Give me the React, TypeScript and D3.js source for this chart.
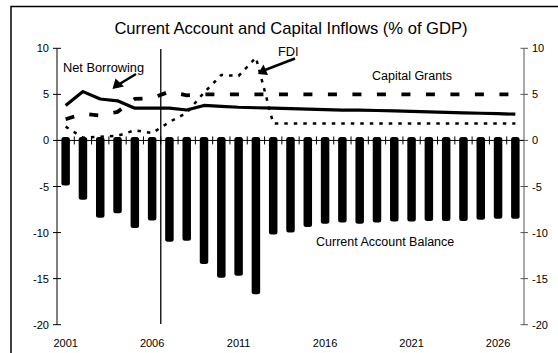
import React from "react";
import * as d3 from "d3";

const years = d3.range(2001, 2028).map(String);
const currentAccount = [-4.9, -6.45, -8.4, -7.9, -9.5, -8.7, -11.0, -10.9, -13.4, -14.9, -14.7, -16.7, -10.2, -10.0, -9.4, -9.05, -8.9, -9.05, -8.9, -8.8, -8.8, -8.75, -8.75, -8.75, -8.6, -8.5, -8.5];
const netBorrowing = [3.8, 5.3, 4.5, 4.3, 3.5, 3.5, 3.5, 3.3, 3.8, 3.7, 3.6, 3.55, 3.5, 3.45, 3.4, 3.35, 3.3, 3.3, 3.25, 3.2, 3.15, 3.1, 3.05, 3.0, 2.95, 2.9, 2.85];
const capitalGrants = [2.3, 2.9, 2.7, 3.1, 4.5, 4.6, 5.3, 4.9, 5, 5, 5, 5, 5, 5, 5, 5, 5, 5, 5, 5, 5, 5, 5, 5, 5, 5, 5];
const fdi = [1.5, 0.3, 0.4, 0.5, 1.1, 0.8, 2.0, 3.0, 5.2, 7.1, 7.0, 9.0, 1.85, 1.85, 1.85, 1.85, 1.85, 1.85, 1.85, 1.85, 1.85, 1.85, 1.85, 1.85, 1.85, 1.85, 1.85];
const yTicks = [-20, -15, -10, -5, 0, 5, 10];
const xLabels = ["2001", "2006", "2011", "2016", "2021", "2026"];

const FONT = "'Liberation Sans', Arial, sans-serif";

export default function App() {
  const x = d3.scaleBand<string>().domain(years).range([57, 524]).padding(0);
  const y = d3.scaleLinear().domain([-20, 10]).range([324.7, 48.3]);
  const cx = (yr: string) => (x(yr) as number) + x.bandwidth() / 2;
  const line = d3
    .line<number>()
    .x((_, i) => cx(years[i]))
    .y((v) => y(v));
  const y0 = y(0);
  const barW = 8.5;
  const sepX = (cx("2006") + cx("2007")) / 2;

  return (
    <svg width={558} height={353} style={{ position: "absolute", left: 0, top: 0, display: "block" }} fontFamily={FONT}>
      <rect x={0} y={0} width={558} height={353} fill="#fff" />
      <rect x={11} y={6.5} width={560} height={360} fill="none" stroke="#000" strokeWidth={1.5} />
      <text x={291} y={33.5} textAnchor="middle" fontSize={16.6}>
        Current Account and Capital Inflows (% of GDP)
      </text>

      {/* bars */}
      {currentAccount.map((v, i) => (
        <rect
          key={years[i]}
          x={cx(years[i]) - barW / 2}
          y={y0 - 3.5}
          width={barW}
          height={y(v) - y0 + 3.5}
          rx={2.5}
          fill="#000"
        />
      ))}

      {/* left axis */}
      <line x1={57} x2={57} y1={y(10)} y2={y(-20)} stroke="#000" strokeWidth={1} />
      {yTicks.map((t) => (
        <g key={"l" + t}>
          <line x1={53} x2={61} y1={y(t)} y2={y(t)} stroke="#000" />
          <text x={49} y={y(t) + 4} textAnchor="end" fontSize={11}>
            {t}
          </text>
        </g>
      ))}
      {/* right axis */}
      <line x1={524} x2={524} y1={y(10)} y2={y(-20)} stroke="#555" strokeWidth={1} />
      {yTicks.map((t) => (
        <g key={"r" + t}>
          <line x1={520.5} x2={528} y1={y(t)} y2={y(t)} stroke="#555" />
          <text x={532} y={y(t) + 4} textAnchor="start" fontSize={11}>
            {t}
          </text>
        </g>
      ))}
      {/* zero line + category ticks */}
      <line x1={57} x2={524} y1={y0} y2={y0} stroke="#000" strokeWidth={1} />
      {years.slice(1).map((yr) => (
        <line key={"t" + yr} x1={x(yr) as number} x2={x(yr) as number} y1={y0 - 4} y2={y0 + 4} stroke="#000" />
      ))}
      {xLabels.map((l) => (
        <text key={"x" + l} x={cx(l)} y={347} textAnchor="middle" fontSize={11}>
          {l}
        </text>
      ))}

      {/* separator */}
      <line x1={sepX} x2={sepX} y1={49} y2={324} stroke="#000" strokeWidth={1.3} />

      {/* lines */}
      <path d={line(fdi) || ""} fill="none" stroke="#000" strokeWidth={2.5} strokeDasharray="3.5 6" />
      <path d={line(capitalGrants) || ""} fill="none" stroke="#000" strokeWidth={3.8} strokeDasharray="9 15.5" />
      <path d={line(netBorrowing) || ""} fill="none" stroke="#000" strokeWidth={3.2} strokeLinejoin="round" />

      {/* annotations */}
      <text x={63} y={72} fontSize={12.8}>Net Borrowing</text>
      <line x1={136} y1={74} x2={119.5} y2={84} stroke="#000" strokeWidth={2.5} />
      <polygon points="112.5,89 115.5,78.5 124,86.5" fill="#000" />
      <text x={278} y={56} fontSize={12.8}>FDI</text>
      <line x1={295} y1={58.5} x2={265} y2={70} stroke="#000" strokeWidth={2.5} />
      <polygon points="258,74 263.5,64.5 268,75" fill="#000" />
      <text x={372} y={79.5} fontSize={12.5}>Capital Grants</text>
      <text x={316} y={245.5} fontSize={12.5}>Current Account Balance</text>
    </svg>
  );
}
